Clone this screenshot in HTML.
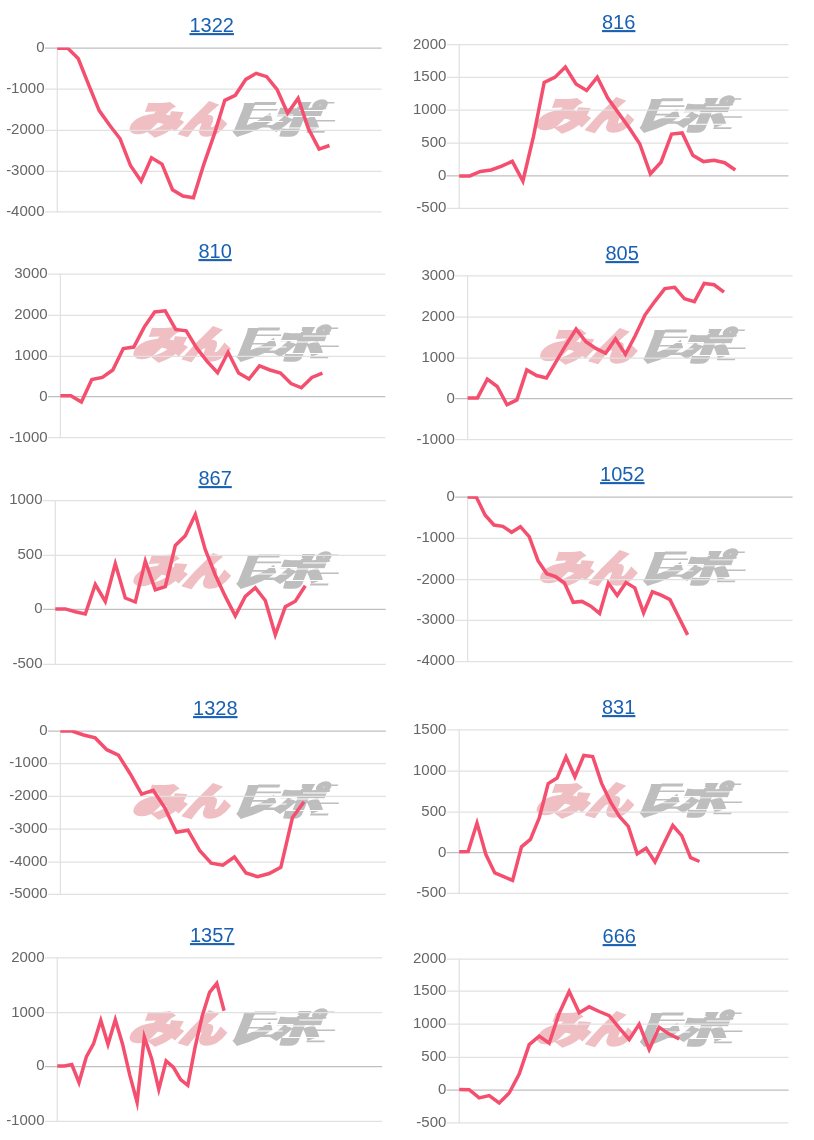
<!DOCTYPE html>
<html lang="ja"><head><meta charset="utf-8"><title>charts</title>
<style>
html,body{margin:0;padding:0;background:#fff}
body{width:814px;height:1140px;position:relative;overflow:hidden;font-family:"Liberation Sans","Noto Sans CJK JP",sans-serif}
svg{position:absolute;left:0;top:0;display:block}
svg text{font-family:"Liberation Sans","Noto Sans CJK JP",sans-serif}
a.t{position:absolute;font-size:20px;line-height:24px;height:24px;color:#1a60b2;text-decoration:underline;text-decoration-thickness:1.9px;text-underline-offset:1.3px;white-space:nowrap;transform:translateX(-50%) scaleY(1.05);transform-origin:50% 18.93px}
.lb{font-size:15px;fill:#666}
</style></head><body>
<svg width="814" height="1140" viewBox="0 0 814 1140">
<g class="wm"><g transform="translate(132.7,136.5) skewX(-22)">
<text x="-6.5" y="-4.0" font-size="37" font-weight="900" fill="#efbfc3" stroke="#efbfc3" stroke-width="3.2" stroke-linejoin="miter" textLength="51" lengthAdjust="spacingAndGlyphs">み</text>
<text x="44.5" y="-4.0" font-size="37" font-weight="900" fill="#efbfc3" stroke="#efbfc3" stroke-width="3.2" stroke-linejoin="miter" textLength="44" lengthAdjust="spacingAndGlyphs">ん</text>
<text x="92.5" y="-4.0" font-size="37" font-weight="900" fill="#bebebe" stroke="#bebebe" stroke-width="3.2" stroke-linejoin="miter" textLength="41" lengthAdjust="spacingAndGlyphs">レ</text>
<text x="133.5" y="-4.0" font-size="37" font-weight="900" fill="#bebebe" stroke="#bebebe" stroke-width="2.6" stroke-linejoin="miter" textLength="49" lengthAdjust="spacingAndGlyphs">ポ</text>
<rect x="108" y="-34.5" width="22" height="3.0" fill="#bebebe"/>
<rect x="108" y="-27.5" width="26" height="1.6" fill="#bebebe"/>
<rect x="104" y="-19" width="20" height="1.6" fill="#bebebe"/>
<rect x="106" y="-11.5" width="36" height="2.4" fill="#bebebe"/>
<rect x="166" y="-29" width="16" height="1.8" fill="#bebebe"/>
<rect x="162" y="-24.5" width="14" height="1.6" fill="#bebebe"/>
<rect x="170" y="-16.5" width="26" height="1.5" fill="#bebebe"/>
<rect x="172" y="-5.5" width="18" height="1.8" fill="#bebebe"/>
<rect x="172" y="-34.5" width="16" height="1.5" fill="#bebebe"/>
<rect x="114" y="-31.0" width="40" height="1.0" fill="#fff"/>
<rect x="118" y="-22" width="34" height="1.0" fill="#fff"/>
<rect x="114" y="-15.5" width="30" height="0.9" fill="#fff"/>
<rect x="146" y="-20.5" width="40" height="0.9" fill="#fff"/>
<rect x="146" y="-9" width="44" height="0.9" fill="#fff"/>
<rect x="156" y="-26.5" width="34" height="0.9" fill="#fff"/>
</g></g>
<line x1="57.3" y1="47.6" x2="57.3" y2="212.4" stroke="#e1e1e1" stroke-width="1.25"/>
<line x1="44.8" y1="48.2" x2="381.6" y2="48.2" stroke="#bfbfbf" stroke-width="1.25"/>
<text class="lb" x="44.5" y="52.1" text-anchor="end">0</text>
<line x1="44.8" y1="89.2" x2="381.6" y2="89.2" stroke="#e1e1e1" stroke-width="1.25"/>
<text class="lb" x="44.5" y="93.1" text-anchor="end">-1000</text>
<line x1="44.8" y1="130.4" x2="381.6" y2="130.4" stroke="#e1e1e1" stroke-width="1.25"/>
<text class="lb" x="44.5" y="134.3" text-anchor="end">-2000</text>
<line x1="44.8" y1="171.3" x2="381.6" y2="171.3" stroke="#e1e1e1" stroke-width="1.25"/>
<text class="lb" x="44.5" y="175.2" text-anchor="end">-3000</text>
<line x1="44.8" y1="211.8" x2="381.6" y2="211.8" stroke="#e1e1e1" stroke-width="1.25"/>
<text class="lb" x="44.5" y="215.7" text-anchor="end">-4000</text>
<clipPath id="cp0"><rect x="56.7" y="47.4" width="325.5" height="165.2"/></clipPath>
<polyline clip-path="url(#cp0)" points="57.3,48.2 67.8,48.3 78.2,58.5 88.7,84.8 99.2,110.6 109.7,125.3 120.1,138.8 130.6,165.8 141.1,181.1 151.5,157.8 162.0,164.1 172.5,189.7 182.9,196.1 193.4,197.7 203.9,164.1 214.4,133.9 224.8,100.3 235.3,95.3 245.8,79.4 256.2,73.3 266.7,76.7 277.2,89.7 287.6,113.2 298.1,98.4 308.6,129.0 319.1,149.1 329.5,145.5" fill="none" stroke="#f44f6e" stroke-width="3.5" stroke-linejoin="miter" stroke-miterlimit="10" stroke-linecap="butt"/>
<g class="wm"><g transform="translate(539.6,132.8) skewX(-22)">
<text x="-6.5" y="-4.0" font-size="37" font-weight="900" fill="#efbfc3" stroke="#efbfc3" stroke-width="3.2" stroke-linejoin="miter" textLength="51" lengthAdjust="spacingAndGlyphs">み</text>
<text x="44.5" y="-4.0" font-size="37" font-weight="900" fill="#efbfc3" stroke="#efbfc3" stroke-width="3.2" stroke-linejoin="miter" textLength="44" lengthAdjust="spacingAndGlyphs">ん</text>
<text x="92.5" y="-4.0" font-size="37" font-weight="900" fill="#bebebe" stroke="#bebebe" stroke-width="3.2" stroke-linejoin="miter" textLength="41" lengthAdjust="spacingAndGlyphs">レ</text>
<text x="133.5" y="-4.0" font-size="37" font-weight="900" fill="#bebebe" stroke="#bebebe" stroke-width="2.6" stroke-linejoin="miter" textLength="49" lengthAdjust="spacingAndGlyphs">ポ</text>
<rect x="108" y="-34.5" width="22" height="3.0" fill="#bebebe"/>
<rect x="108" y="-27.5" width="26" height="1.6" fill="#bebebe"/>
<rect x="104" y="-19" width="20" height="1.6" fill="#bebebe"/>
<rect x="106" y="-11.5" width="36" height="2.4" fill="#bebebe"/>
<rect x="166" y="-29" width="16" height="1.8" fill="#bebebe"/>
<rect x="162" y="-24.5" width="14" height="1.6" fill="#bebebe"/>
<rect x="170" y="-16.5" width="26" height="1.5" fill="#bebebe"/>
<rect x="172" y="-5.5" width="18" height="1.8" fill="#bebebe"/>
<rect x="172" y="-34.5" width="16" height="1.5" fill="#bebebe"/>
<rect x="114" y="-31.0" width="40" height="1.0" fill="#fff"/>
<rect x="118" y="-22" width="34" height="1.0" fill="#fff"/>
<rect x="114" y="-15.5" width="30" height="0.9" fill="#fff"/>
<rect x="146" y="-20.5" width="40" height="0.9" fill="#fff"/>
<rect x="146" y="-9" width="44" height="0.9" fill="#fff"/>
<rect x="156" y="-26.5" width="34" height="0.9" fill="#fff"/>
</g></g>
<line x1="459.2" y1="44.1" x2="459.2" y2="209.0" stroke="#e1e1e1" stroke-width="1.25"/>
<line x1="446.7" y1="44.7" x2="788.5" y2="44.7" stroke="#e1e1e1" stroke-width="1.25"/>
<text class="lb" x="446.4" y="48.6" text-anchor="end">2000</text>
<line x1="446.7" y1="77.4" x2="788.5" y2="77.4" stroke="#e1e1e1" stroke-width="1.25"/>
<text class="lb" x="446.4" y="81.3" text-anchor="end">1500</text>
<line x1="446.7" y1="110.1" x2="788.5" y2="110.1" stroke="#e1e1e1" stroke-width="1.25"/>
<text class="lb" x="446.4" y="114.0" text-anchor="end">1000</text>
<line x1="446.7" y1="143.0" x2="788.5" y2="143.0" stroke="#e1e1e1" stroke-width="1.25"/>
<text class="lb" x="446.4" y="146.9" text-anchor="end">500</text>
<line x1="446.7" y1="175.9" x2="788.5" y2="175.9" stroke="#bfbfbf" stroke-width="1.25"/>
<text class="lb" x="446.4" y="179.8" text-anchor="end">0</text>
<line x1="446.7" y1="208.4" x2="788.5" y2="208.4" stroke="#e1e1e1" stroke-width="1.25"/>
<text class="lb" x="446.4" y="212.3" text-anchor="end">-500</text>
<clipPath id="cp1"><rect x="458.6" y="43.9" width="330.5" height="165.3"/></clipPath>
<polyline clip-path="url(#cp1)" points="459.2,175.9 469.8,175.9 480.4,171.5 491.1,170.0 501.7,166.1 512.3,161.3 522.9,181.0 533.5,136.4 544.2,82.4 554.8,77.4 565.4,67.0 576.0,84.0 586.6,90.5 597.3,77.2 607.9,98.3 618.5,113.0 629.1,127.8 639.7,143.7 650.4,173.8 661.0,162.2 671.6,134.1 682.2,132.9 692.8,155.3 703.5,161.6 714.1,160.2 724.7,162.7 735.3,170.0" fill="none" stroke="#f44f6e" stroke-width="3.5" stroke-linejoin="miter" stroke-miterlimit="10" stroke-linecap="butt"/>
<g class="wm"><g transform="translate(136.4,362.0) skewX(-22)">
<text x="-6.5" y="-4.0" font-size="37" font-weight="900" fill="#efbfc3" stroke="#efbfc3" stroke-width="3.2" stroke-linejoin="miter" textLength="51" lengthAdjust="spacingAndGlyphs">み</text>
<text x="44.5" y="-4.0" font-size="37" font-weight="900" fill="#efbfc3" stroke="#efbfc3" stroke-width="3.2" stroke-linejoin="miter" textLength="44" lengthAdjust="spacingAndGlyphs">ん</text>
<text x="92.5" y="-4.0" font-size="37" font-weight="900" fill="#bebebe" stroke="#bebebe" stroke-width="3.2" stroke-linejoin="miter" textLength="41" lengthAdjust="spacingAndGlyphs">レ</text>
<text x="133.5" y="-4.0" font-size="37" font-weight="900" fill="#bebebe" stroke="#bebebe" stroke-width="2.6" stroke-linejoin="miter" textLength="49" lengthAdjust="spacingAndGlyphs">ポ</text>
<rect x="108" y="-34.5" width="22" height="3.0" fill="#bebebe"/>
<rect x="108" y="-27.5" width="26" height="1.6" fill="#bebebe"/>
<rect x="104" y="-19" width="20" height="1.6" fill="#bebebe"/>
<rect x="106" y="-11.5" width="36" height="2.4" fill="#bebebe"/>
<rect x="166" y="-29" width="16" height="1.8" fill="#bebebe"/>
<rect x="162" y="-24.5" width="14" height="1.6" fill="#bebebe"/>
<rect x="170" y="-16.5" width="26" height="1.5" fill="#bebebe"/>
<rect x="172" y="-5.5" width="18" height="1.8" fill="#bebebe"/>
<rect x="172" y="-34.5" width="16" height="1.5" fill="#bebebe"/>
<rect x="114" y="-31.0" width="40" height="1.0" fill="#fff"/>
<rect x="118" y="-22" width="34" height="1.0" fill="#fff"/>
<rect x="114" y="-15.5" width="30" height="0.9" fill="#fff"/>
<rect x="146" y="-20.5" width="40" height="0.9" fill="#fff"/>
<rect x="146" y="-9" width="44" height="0.9" fill="#fff"/>
<rect x="156" y="-26.5" width="34" height="0.9" fill="#fff"/>
</g></g>
<line x1="60.4" y1="273.59999999999997" x2="60.4" y2="438.20000000000005" stroke="#e1e1e1" stroke-width="1.25"/>
<line x1="47.9" y1="274.2" x2="385.3" y2="274.2" stroke="#e1e1e1" stroke-width="1.25"/>
<text class="lb" x="47.6" y="278.1" text-anchor="end">3000</text>
<line x1="47.9" y1="315.3" x2="385.3" y2="315.3" stroke="#e1e1e1" stroke-width="1.25"/>
<text class="lb" x="47.6" y="319.2" text-anchor="end">2000</text>
<line x1="47.9" y1="356.3" x2="385.3" y2="356.3" stroke="#e1e1e1" stroke-width="1.25"/>
<text class="lb" x="47.6" y="360.2" text-anchor="end">1000</text>
<line x1="47.9" y1="396.6" x2="385.3" y2="396.6" stroke="#bfbfbf" stroke-width="1.25"/>
<text class="lb" x="47.6" y="400.5" text-anchor="end">0</text>
<line x1="47.9" y1="437.6" x2="385.3" y2="437.6" stroke="#e1e1e1" stroke-width="1.25"/>
<text class="lb" x="47.6" y="441.5" text-anchor="end">-1000</text>
<clipPath id="cp2"><rect x="59.8" y="273.4" width="326.1" height="165.0"/></clipPath>
<polyline clip-path="url(#cp2)" points="60.4,395.8 70.9,395.8 81.4,402.0 91.8,379.5 102.3,377.4 112.8,370.0 123.3,348.5 133.8,347.1 144.2,327.1 154.7,311.9 165.2,310.8 175.7,329.4 186.2,330.8 196.6,347.9 207.1,361.4 217.6,372.8 228.1,352.3 238.6,373.0 249.0,379.0 259.5,365.9 270.0,370.0 280.5,373.0 291.0,383.6 301.4,387.8 311.9,377.4 322.4,373.2" fill="none" stroke="#f44f6e" stroke-width="3.5" stroke-linejoin="miter" stroke-miterlimit="10" stroke-linecap="butt"/>
<g class="wm"><g transform="translate(543.2,364.0) skewX(-22)">
<text x="-6.5" y="-4.0" font-size="37" font-weight="900" fill="#efbfc3" stroke="#efbfc3" stroke-width="3.2" stroke-linejoin="miter" textLength="51" lengthAdjust="spacingAndGlyphs">み</text>
<text x="44.5" y="-4.0" font-size="37" font-weight="900" fill="#efbfc3" stroke="#efbfc3" stroke-width="3.2" stroke-linejoin="miter" textLength="44" lengthAdjust="spacingAndGlyphs">ん</text>
<text x="92.5" y="-4.0" font-size="37" font-weight="900" fill="#bebebe" stroke="#bebebe" stroke-width="3.2" stroke-linejoin="miter" textLength="41" lengthAdjust="spacingAndGlyphs">レ</text>
<text x="133.5" y="-4.0" font-size="37" font-weight="900" fill="#bebebe" stroke="#bebebe" stroke-width="2.6" stroke-linejoin="miter" textLength="49" lengthAdjust="spacingAndGlyphs">ポ</text>
<rect x="108" y="-34.5" width="22" height="3.0" fill="#bebebe"/>
<rect x="108" y="-27.5" width="26" height="1.6" fill="#bebebe"/>
<rect x="104" y="-19" width="20" height="1.6" fill="#bebebe"/>
<rect x="106" y="-11.5" width="36" height="2.4" fill="#bebebe"/>
<rect x="166" y="-29" width="16" height="1.8" fill="#bebebe"/>
<rect x="162" y="-24.5" width="14" height="1.6" fill="#bebebe"/>
<rect x="170" y="-16.5" width="26" height="1.5" fill="#bebebe"/>
<rect x="172" y="-5.5" width="18" height="1.8" fill="#bebebe"/>
<rect x="172" y="-34.5" width="16" height="1.5" fill="#bebebe"/>
<rect x="114" y="-31.0" width="40" height="1.0" fill="#fff"/>
<rect x="118" y="-22" width="34" height="1.0" fill="#fff"/>
<rect x="114" y="-15.5" width="30" height="0.9" fill="#fff"/>
<rect x="146" y="-20.5" width="40" height="0.9" fill="#fff"/>
<rect x="146" y="-9" width="44" height="0.9" fill="#fff"/>
<rect x="156" y="-26.5" width="34" height="0.9" fill="#fff"/>
</g></g>
<line x1="467.6" y1="275.29999999999995" x2="467.6" y2="440.20000000000005" stroke="#e1e1e1" stroke-width="1.25"/>
<line x1="455.1" y1="275.9" x2="792.6" y2="275.9" stroke="#e1e1e1" stroke-width="1.25"/>
<text class="lb" x="454.8" y="279.8" text-anchor="end">3000</text>
<line x1="455.1" y1="317.0" x2="792.6" y2="317.0" stroke="#e1e1e1" stroke-width="1.25"/>
<text class="lb" x="454.8" y="320.9" text-anchor="end">2000</text>
<line x1="455.1" y1="358.0" x2="792.6" y2="358.0" stroke="#e1e1e1" stroke-width="1.25"/>
<text class="lb" x="454.8" y="361.9" text-anchor="end">1000</text>
<line x1="455.1" y1="398.6" x2="792.6" y2="398.6" stroke="#bfbfbf" stroke-width="1.25"/>
<text class="lb" x="454.8" y="402.5" text-anchor="end">0</text>
<line x1="455.1" y1="439.6" x2="792.6" y2="439.6" stroke="#e1e1e1" stroke-width="1.25"/>
<text class="lb" x="454.8" y="443.5" text-anchor="end">-1000</text>
<clipPath id="cp3"><rect x="467.0" y="275.1" width="326.2" height="165.3"/></clipPath>
<polyline clip-path="url(#cp3)" points="467.6,398.1 477.5,397.9 487.3,379.2 497.2,386.5 507.0,404.8 516.9,399.9 526.8,369.9 536.6,375.5 546.5,377.9 556.3,361.4 566.2,344.7 576.1,329.1 585.9,341.8 595.8,348.4 605.6,353.2 615.5,339.0 625.4,354.2 635.2,335.7 645.1,314.8 654.9,301.3 664.8,288.6 674.7,287.3 684.5,298.8 694.4,301.7 704.2,283.5 714.1,284.8 724.0,292.2" fill="none" stroke="#f44f6e" stroke-width="3.5" stroke-linejoin="miter" stroke-miterlimit="10" stroke-linecap="butt"/>
<g class="wm"><g transform="translate(136.4,589.1) skewX(-22)">
<text x="-6.5" y="-4.0" font-size="37" font-weight="900" fill="#efbfc3" stroke="#efbfc3" stroke-width="3.2" stroke-linejoin="miter" textLength="51" lengthAdjust="spacingAndGlyphs">み</text>
<text x="44.5" y="-4.0" font-size="37" font-weight="900" fill="#efbfc3" stroke="#efbfc3" stroke-width="3.2" stroke-linejoin="miter" textLength="44" lengthAdjust="spacingAndGlyphs">ん</text>
<text x="92.5" y="-4.0" font-size="37" font-weight="900" fill="#bebebe" stroke="#bebebe" stroke-width="3.2" stroke-linejoin="miter" textLength="41" lengthAdjust="spacingAndGlyphs">レ</text>
<text x="133.5" y="-4.0" font-size="37" font-weight="900" fill="#bebebe" stroke="#bebebe" stroke-width="2.6" stroke-linejoin="miter" textLength="49" lengthAdjust="spacingAndGlyphs">ポ</text>
<rect x="108" y="-34.5" width="22" height="3.0" fill="#bebebe"/>
<rect x="108" y="-27.5" width="26" height="1.6" fill="#bebebe"/>
<rect x="104" y="-19" width="20" height="1.6" fill="#bebebe"/>
<rect x="106" y="-11.5" width="36" height="2.4" fill="#bebebe"/>
<rect x="166" y="-29" width="16" height="1.8" fill="#bebebe"/>
<rect x="162" y="-24.5" width="14" height="1.6" fill="#bebebe"/>
<rect x="170" y="-16.5" width="26" height="1.5" fill="#bebebe"/>
<rect x="172" y="-5.5" width="18" height="1.8" fill="#bebebe"/>
<rect x="172" y="-34.5" width="16" height="1.5" fill="#bebebe"/>
<rect x="114" y="-31.0" width="40" height="1.0" fill="#fff"/>
<rect x="118" y="-22" width="34" height="1.0" fill="#fff"/>
<rect x="114" y="-15.5" width="30" height="0.9" fill="#fff"/>
<rect x="146" y="-20.5" width="40" height="0.9" fill="#fff"/>
<rect x="146" y="-9" width="44" height="0.9" fill="#fff"/>
<rect x="156" y="-26.5" width="34" height="0.9" fill="#fff"/>
</g></g>
<line x1="55.3" y1="499.9" x2="55.3" y2="665.0" stroke="#e1e1e1" stroke-width="1.25"/>
<line x1="42.8" y1="500.5" x2="385.8" y2="500.5" stroke="#e1e1e1" stroke-width="1.25"/>
<text class="lb" x="42.5" y="504.4" text-anchor="end">1000</text>
<line x1="42.8" y1="555.3" x2="385.8" y2="555.3" stroke="#e1e1e1" stroke-width="1.25"/>
<text class="lb" x="42.5" y="559.2" text-anchor="end">500</text>
<line x1="42.8" y1="609.4" x2="385.8" y2="609.4" stroke="#bfbfbf" stroke-width="1.25"/>
<text class="lb" x="42.5" y="613.3" text-anchor="end">0</text>
<line x1="42.8" y1="664.4" x2="385.8" y2="664.4" stroke="#e1e1e1" stroke-width="1.25"/>
<text class="lb" x="42.5" y="668.3" text-anchor="end">-500</text>
<clipPath id="cp4"><rect x="54.7" y="499.7" width="331.7" height="165.5"/></clipPath>
<polyline clip-path="url(#cp4)" points="55.3,608.9 65.3,608.9 75.3,611.8 85.3,614.0 95.3,584.5 105.3,601.4 115.3,563.8 125.3,598.0 135.3,602.0 145.3,561.2 155.3,589.8 165.3,586.7 175.3,545.5 185.3,535.7 195.3,514.4 205.3,549.7 215.3,575.0 225.3,596.4 235.3,615.9 245.3,596.4 255.3,587.8 265.3,600.5 275.3,634.8 285.3,606.8 295.3,601.3 305.3,585.8" fill="none" stroke="#f44f6e" stroke-width="3.5" stroke-linejoin="miter" stroke-miterlimit="10" stroke-linecap="butt"/>
<g class="wm"><g transform="translate(543.2,585.9) skewX(-22)">
<text x="-6.5" y="-4.0" font-size="37" font-weight="900" fill="#efbfc3" stroke="#efbfc3" stroke-width="3.2" stroke-linejoin="miter" textLength="51" lengthAdjust="spacingAndGlyphs">み</text>
<text x="44.5" y="-4.0" font-size="37" font-weight="900" fill="#efbfc3" stroke="#efbfc3" stroke-width="3.2" stroke-linejoin="miter" textLength="44" lengthAdjust="spacingAndGlyphs">ん</text>
<text x="92.5" y="-4.0" font-size="37" font-weight="900" fill="#bebebe" stroke="#bebebe" stroke-width="3.2" stroke-linejoin="miter" textLength="41" lengthAdjust="spacingAndGlyphs">レ</text>
<text x="133.5" y="-4.0" font-size="37" font-weight="900" fill="#bebebe" stroke="#bebebe" stroke-width="2.6" stroke-linejoin="miter" textLength="49" lengthAdjust="spacingAndGlyphs">ポ</text>
<rect x="108" y="-34.5" width="22" height="3.0" fill="#bebebe"/>
<rect x="108" y="-27.5" width="26" height="1.6" fill="#bebebe"/>
<rect x="104" y="-19" width="20" height="1.6" fill="#bebebe"/>
<rect x="106" y="-11.5" width="36" height="2.4" fill="#bebebe"/>
<rect x="166" y="-29" width="16" height="1.8" fill="#bebebe"/>
<rect x="162" y="-24.5" width="14" height="1.6" fill="#bebebe"/>
<rect x="170" y="-16.5" width="26" height="1.5" fill="#bebebe"/>
<rect x="172" y="-5.5" width="18" height="1.8" fill="#bebebe"/>
<rect x="172" y="-34.5" width="16" height="1.5" fill="#bebebe"/>
<rect x="114" y="-31.0" width="40" height="1.0" fill="#fff"/>
<rect x="118" y="-22" width="34" height="1.0" fill="#fff"/>
<rect x="114" y="-15.5" width="30" height="0.9" fill="#fff"/>
<rect x="146" y="-20.5" width="40" height="0.9" fill="#fff"/>
<rect x="146" y="-9" width="44" height="0.9" fill="#fff"/>
<rect x="156" y="-26.5" width="34" height="0.9" fill="#fff"/>
</g></g>
<line x1="467.6" y1="496.5" x2="467.6" y2="662.1" stroke="#e1e1e1" stroke-width="1.25"/>
<line x1="455.1" y1="497.1" x2="792.6" y2="497.1" stroke="#bfbfbf" stroke-width="1.25"/>
<text class="lb" x="454.8" y="501.0" text-anchor="end">0</text>
<line x1="455.1" y1="538.4" x2="792.6" y2="538.4" stroke="#e1e1e1" stroke-width="1.25"/>
<text class="lb" x="454.8" y="542.3" text-anchor="end">-1000</text>
<line x1="455.1" y1="579.7" x2="792.6" y2="579.7" stroke="#e1e1e1" stroke-width="1.25"/>
<text class="lb" x="454.8" y="583.6" text-anchor="end">-2000</text>
<line x1="455.1" y1="620.4" x2="792.6" y2="620.4" stroke="#e1e1e1" stroke-width="1.25"/>
<text class="lb" x="454.8" y="624.3" text-anchor="end">-3000</text>
<line x1="455.1" y1="661.5" x2="792.6" y2="661.5" stroke="#e1e1e1" stroke-width="1.25"/>
<text class="lb" x="454.8" y="665.4" text-anchor="end">-4000</text>
<clipPath id="cp5"><rect x="467.0" y="496.3" width="326.2" height="166.0"/></clipPath>
<polyline clip-path="url(#cp5)" points="467.6,497.1 476.4,497.3 485.2,515.3 494.0,525.0 502.8,526.3 511.6,532.3 520.4,526.7 529.2,536.7 538.0,560.7 546.8,573.7 555.6,576.7 564.4,582.9 573.2,602.3 582.0,601.4 590.8,606.2 599.6,613.4 608.4,583.1 617.2,595.5 626.0,582.5 634.8,587.8 643.6,612.8 652.4,591.8 661.2,595.1 670.0,599.6 678.8,617.2 687.6,634.9" fill="none" stroke="#f44f6e" stroke-width="3.5" stroke-linejoin="miter" stroke-miterlimit="10" stroke-linecap="butt"/>
<g class="wm"><g transform="translate(136.4,819.1) skewX(-22)">
<text x="-6.5" y="-4.0" font-size="37" font-weight="900" fill="#efbfc3" stroke="#efbfc3" stroke-width="3.2" stroke-linejoin="miter" textLength="51" lengthAdjust="spacingAndGlyphs">み</text>
<text x="44.5" y="-4.0" font-size="37" font-weight="900" fill="#efbfc3" stroke="#efbfc3" stroke-width="3.2" stroke-linejoin="miter" textLength="44" lengthAdjust="spacingAndGlyphs">ん</text>
<text x="92.5" y="-4.0" font-size="37" font-weight="900" fill="#bebebe" stroke="#bebebe" stroke-width="3.2" stroke-linejoin="miter" textLength="41" lengthAdjust="spacingAndGlyphs">レ</text>
<text x="133.5" y="-4.0" font-size="37" font-weight="900" fill="#bebebe" stroke="#bebebe" stroke-width="2.6" stroke-linejoin="miter" textLength="49" lengthAdjust="spacingAndGlyphs">ポ</text>
<rect x="108" y="-34.5" width="22" height="3.0" fill="#bebebe"/>
<rect x="108" y="-27.5" width="26" height="1.6" fill="#bebebe"/>
<rect x="104" y="-19" width="20" height="1.6" fill="#bebebe"/>
<rect x="106" y="-11.5" width="36" height="2.4" fill="#bebebe"/>
<rect x="166" y="-29" width="16" height="1.8" fill="#bebebe"/>
<rect x="162" y="-24.5" width="14" height="1.6" fill="#bebebe"/>
<rect x="170" y="-16.5" width="26" height="1.5" fill="#bebebe"/>
<rect x="172" y="-5.5" width="18" height="1.8" fill="#bebebe"/>
<rect x="172" y="-34.5" width="16" height="1.5" fill="#bebebe"/>
<rect x="114" y="-31.0" width="40" height="1.0" fill="#fff"/>
<rect x="118" y="-22" width="34" height="1.0" fill="#fff"/>
<rect x="114" y="-15.5" width="30" height="0.9" fill="#fff"/>
<rect x="146" y="-20.5" width="40" height="0.9" fill="#fff"/>
<rect x="146" y="-9" width="44" height="0.9" fill="#fff"/>
<rect x="156" y="-26.5" width="34" height="0.9" fill="#fff"/>
</g></g>
<line x1="60.4" y1="730.4" x2="60.4" y2="895.0" stroke="#e1e1e1" stroke-width="1.25"/>
<line x1="47.9" y1="731.0" x2="385.8" y2="731.0" stroke="#bfbfbf" stroke-width="1.25"/>
<text class="lb" x="47.6" y="734.9" text-anchor="end">0</text>
<line x1="47.9" y1="763.5" x2="385.8" y2="763.5" stroke="#e1e1e1" stroke-width="1.25"/>
<text class="lb" x="47.6" y="767.4" text-anchor="end">-1000</text>
<line x1="47.9" y1="796.4" x2="385.8" y2="796.4" stroke="#e1e1e1" stroke-width="1.25"/>
<text class="lb" x="47.6" y="800.3" text-anchor="end">-2000</text>
<line x1="47.9" y1="829.1" x2="385.8" y2="829.1" stroke="#e1e1e1" stroke-width="1.25"/>
<text class="lb" x="47.6" y="833.0" text-anchor="end">-3000</text>
<line x1="47.9" y1="862.0" x2="385.8" y2="862.0" stroke="#e1e1e1" stroke-width="1.25"/>
<text class="lb" x="47.6" y="865.9" text-anchor="end">-4000</text>
<line x1="47.9" y1="894.4" x2="385.8" y2="894.4" stroke="#e1e1e1" stroke-width="1.25"/>
<text class="lb" x="47.6" y="898.3" text-anchor="end">-5000</text>
<clipPath id="cp6"><rect x="59.8" y="730.2" width="326.6" height="165.0"/></clipPath>
<polyline clip-path="url(#cp6)" points="60.4,731.0 72.0,731.0 83.6,735.0 95.2,737.9 106.8,749.7 118.4,755.1 130.0,773.5 141.6,794.1 153.2,790.3 164.8,807.9 176.4,832.2 188.0,830.2 199.6,850.4 211.2,863.1 222.8,865.1 234.4,857.0 246.0,873.0 257.6,876.7 269.2,873.5 280.8,867.3 292.4,817.8 304.0,801.8" fill="none" stroke="#f44f6e" stroke-width="3.5" stroke-linejoin="miter" stroke-miterlimit="10" stroke-linecap="butt"/>
<g class="wm"><g transform="translate(539.6,817.9) skewX(-22)">
<text x="-6.5" y="-4.0" font-size="37" font-weight="900" fill="#efbfc3" stroke="#efbfc3" stroke-width="3.2" stroke-linejoin="miter" textLength="51" lengthAdjust="spacingAndGlyphs">み</text>
<text x="44.5" y="-4.0" font-size="37" font-weight="900" fill="#efbfc3" stroke="#efbfc3" stroke-width="3.2" stroke-linejoin="miter" textLength="44" lengthAdjust="spacingAndGlyphs">ん</text>
<text x="92.5" y="-4.0" font-size="37" font-weight="900" fill="#bebebe" stroke="#bebebe" stroke-width="3.2" stroke-linejoin="miter" textLength="41" lengthAdjust="spacingAndGlyphs">レ</text>
<text x="133.5" y="-4.0" font-size="37" font-weight="900" fill="#bebebe" stroke="#bebebe" stroke-width="2.6" stroke-linejoin="miter" textLength="49" lengthAdjust="spacingAndGlyphs">ポ</text>
<rect x="108" y="-34.5" width="22" height="3.0" fill="#bebebe"/>
<rect x="108" y="-27.5" width="26" height="1.6" fill="#bebebe"/>
<rect x="104" y="-19" width="20" height="1.6" fill="#bebebe"/>
<rect x="106" y="-11.5" width="36" height="2.4" fill="#bebebe"/>
<rect x="166" y="-29" width="16" height="1.8" fill="#bebebe"/>
<rect x="162" y="-24.5" width="14" height="1.6" fill="#bebebe"/>
<rect x="170" y="-16.5" width="26" height="1.5" fill="#bebebe"/>
<rect x="172" y="-5.5" width="18" height="1.8" fill="#bebebe"/>
<rect x="172" y="-34.5" width="16" height="1.5" fill="#bebebe"/>
<rect x="114" y="-31.0" width="40" height="1.0" fill="#fff"/>
<rect x="118" y="-22" width="34" height="1.0" fill="#fff"/>
<rect x="114" y="-15.5" width="30" height="0.9" fill="#fff"/>
<rect x="146" y="-20.5" width="40" height="0.9" fill="#fff"/>
<rect x="146" y="-9" width="44" height="0.9" fill="#fff"/>
<rect x="156" y="-26.5" width="34" height="0.9" fill="#fff"/>
</g></g>
<line x1="459.2" y1="729.1999999999999" x2="459.2" y2="894.0" stroke="#e1e1e1" stroke-width="1.25"/>
<line x1="446.7" y1="729.8" x2="788.5" y2="729.8" stroke="#e1e1e1" stroke-width="1.25"/>
<text class="lb" x="446.4" y="733.7" text-anchor="end">1500</text>
<line x1="446.7" y1="771.1" x2="788.5" y2="771.1" stroke="#e1e1e1" stroke-width="1.25"/>
<text class="lb" x="446.4" y="775.0" text-anchor="end">1000</text>
<line x1="446.7" y1="812.1" x2="788.5" y2="812.1" stroke="#e1e1e1" stroke-width="1.25"/>
<text class="lb" x="446.4" y="816.0" text-anchor="end">500</text>
<line x1="446.7" y1="852.7" x2="788.5" y2="852.7" stroke="#bfbfbf" stroke-width="1.25"/>
<text class="lb" x="446.4" y="856.6" text-anchor="end">0</text>
<line x1="446.7" y1="893.4" x2="788.5" y2="893.4" stroke="#e1e1e1" stroke-width="1.25"/>
<text class="lb" x="446.4" y="897.3" text-anchor="end">-500</text>
<clipPath id="cp7"><rect x="458.6" y="729.0" width="330.5" height="165.2"/></clipPath>
<polyline clip-path="url(#cp7)" points="459.2,851.7 468.1,851.5 477.0,823.1 485.9,854.6 494.8,872.9 503.7,876.7 512.6,880.4 521.5,846.8 530.4,839.4 539.3,817.8 548.2,783.5 557.1,778.0 566.0,756.8 574.9,776.8 583.8,755.4 592.7,756.5 601.6,783.4 610.5,801.8 619.4,816.5 628.3,826.4 637.2,853.9 646.1,848.2 655.0,862.0 663.9,843.6 672.8,825.5 681.7,835.7 690.6,857.7 699.5,861.5" fill="none" stroke="#f44f6e" stroke-width="3.5" stroke-linejoin="miter" stroke-miterlimit="10" stroke-linecap="butt"/>
<g class="wm"><g transform="translate(132.7,1046.0) skewX(-22)">
<text x="-6.5" y="-4.0" font-size="37" font-weight="900" fill="#efbfc3" stroke="#efbfc3" stroke-width="3.2" stroke-linejoin="miter" textLength="51" lengthAdjust="spacingAndGlyphs">み</text>
<text x="44.5" y="-4.0" font-size="37" font-weight="900" fill="#efbfc3" stroke="#efbfc3" stroke-width="3.2" stroke-linejoin="miter" textLength="44" lengthAdjust="spacingAndGlyphs">ん</text>
<text x="92.5" y="-4.0" font-size="37" font-weight="900" fill="#bebebe" stroke="#bebebe" stroke-width="3.2" stroke-linejoin="miter" textLength="41" lengthAdjust="spacingAndGlyphs">レ</text>
<text x="133.5" y="-4.0" font-size="37" font-weight="900" fill="#bebebe" stroke="#bebebe" stroke-width="2.6" stroke-linejoin="miter" textLength="49" lengthAdjust="spacingAndGlyphs">ポ</text>
<rect x="108" y="-34.5" width="22" height="3.0" fill="#bebebe"/>
<rect x="108" y="-27.5" width="26" height="1.6" fill="#bebebe"/>
<rect x="104" y="-19" width="20" height="1.6" fill="#bebebe"/>
<rect x="106" y="-11.5" width="36" height="2.4" fill="#bebebe"/>
<rect x="166" y="-29" width="16" height="1.8" fill="#bebebe"/>
<rect x="162" y="-24.5" width="14" height="1.6" fill="#bebebe"/>
<rect x="170" y="-16.5" width="26" height="1.5" fill="#bebebe"/>
<rect x="172" y="-5.5" width="18" height="1.8" fill="#bebebe"/>
<rect x="172" y="-34.5" width="16" height="1.5" fill="#bebebe"/>
<rect x="114" y="-31.0" width="40" height="1.0" fill="#fff"/>
<rect x="118" y="-22" width="34" height="1.0" fill="#fff"/>
<rect x="114" y="-15.5" width="30" height="0.9" fill="#fff"/>
<rect x="146" y="-20.5" width="40" height="0.9" fill="#fff"/>
<rect x="146" y="-9" width="44" height="0.9" fill="#fff"/>
<rect x="156" y="-26.5" width="34" height="0.9" fill="#fff"/>
</g></g>
<line x1="57.3" y1="957.3" x2="57.3" y2="1121.8999999999999" stroke="#e1e1e1" stroke-width="1.25"/>
<line x1="44.8" y1="957.9" x2="382.1" y2="957.9" stroke="#e1e1e1" stroke-width="1.25"/>
<text class="lb" x="44.5" y="961.8" text-anchor="end">2000</text>
<line x1="44.8" y1="1012.7" x2="382.1" y2="1012.7" stroke="#e1e1e1" stroke-width="1.25"/>
<text class="lb" x="44.5" y="1016.6" text-anchor="end">1000</text>
<line x1="44.8" y1="1066.5" x2="382.1" y2="1066.5" stroke="#bfbfbf" stroke-width="1.25"/>
<text class="lb" x="44.5" y="1070.4" text-anchor="end">0</text>
<line x1="44.8" y1="1121.3" x2="382.1" y2="1121.3" stroke="#e1e1e1" stroke-width="1.25"/>
<text class="lb" x="44.5" y="1125.2" text-anchor="end">-1000</text>
<clipPath id="cp8"><rect x="56.7" y="957.1" width="326.0" height="165.0"/></clipPath>
<polyline clip-path="url(#cp8)" points="57.3,1066.0 64.5,1066.0 71.8,1064.6 79.0,1082.5 86.3,1056.9 93.5,1043.9 100.8,1020.4 108.0,1044.3 115.3,1019.7 122.5,1043.9 129.8,1075.1 137.1,1102.3 144.3,1037.0 151.6,1058.6 158.8,1089.4 166.1,1060.9 173.3,1067.2 180.6,1079.5 187.8,1085.4 195.1,1047.1 202.3,1015.7 209.6,992.3 216.8,983.3 224.1,1010.7" fill="none" stroke="#f44f6e" stroke-width="3.5" stroke-linejoin="miter" stroke-miterlimit="10" stroke-linecap="butt"/>
<g class="wm"><g transform="translate(540.0,1047.0) skewX(-22)">
<text x="-6.5" y="-4.0" font-size="37" font-weight="900" fill="#efbfc3" stroke="#efbfc3" stroke-width="3.2" stroke-linejoin="miter" textLength="51" lengthAdjust="spacingAndGlyphs">み</text>
<text x="44.5" y="-4.0" font-size="37" font-weight="900" fill="#efbfc3" stroke="#efbfc3" stroke-width="3.2" stroke-linejoin="miter" textLength="44" lengthAdjust="spacingAndGlyphs">ん</text>
<text x="92.5" y="-4.0" font-size="37" font-weight="900" fill="#bebebe" stroke="#bebebe" stroke-width="3.2" stroke-linejoin="miter" textLength="41" lengthAdjust="spacingAndGlyphs">レ</text>
<text x="133.5" y="-4.0" font-size="37" font-weight="900" fill="#bebebe" stroke="#bebebe" stroke-width="2.6" stroke-linejoin="miter" textLength="49" lengthAdjust="spacingAndGlyphs">ポ</text>
<rect x="108" y="-34.5" width="22" height="3.0" fill="#bebebe"/>
<rect x="108" y="-27.5" width="26" height="1.6" fill="#bebebe"/>
<rect x="104" y="-19" width="20" height="1.6" fill="#bebebe"/>
<rect x="106" y="-11.5" width="36" height="2.4" fill="#bebebe"/>
<rect x="166" y="-29" width="16" height="1.8" fill="#bebebe"/>
<rect x="162" y="-24.5" width="14" height="1.6" fill="#bebebe"/>
<rect x="170" y="-16.5" width="26" height="1.5" fill="#bebebe"/>
<rect x="172" y="-5.5" width="18" height="1.8" fill="#bebebe"/>
<rect x="172" y="-34.5" width="16" height="1.5" fill="#bebebe"/>
<rect x="114" y="-31.0" width="40" height="1.0" fill="#fff"/>
<rect x="118" y="-22" width="34" height="1.0" fill="#fff"/>
<rect x="114" y="-15.5" width="30" height="0.9" fill="#fff"/>
<rect x="146" y="-20.5" width="40" height="0.9" fill="#fff"/>
<rect x="146" y="-9" width="44" height="0.9" fill="#fff"/>
<rect x="156" y="-26.5" width="34" height="0.9" fill="#fff"/>
</g></g>
<line x1="459.2" y1="958.5" x2="459.2" y2="1123.3999999999999" stroke="#e1e1e1" stroke-width="1.25"/>
<line x1="446.7" y1="959.1" x2="788.5" y2="959.1" stroke="#e1e1e1" stroke-width="1.25"/>
<text class="lb" x="446.4" y="963.0" text-anchor="end">2000</text>
<line x1="446.7" y1="991.1" x2="788.5" y2="991.1" stroke="#e1e1e1" stroke-width="1.25"/>
<text class="lb" x="446.4" y="995.0" text-anchor="end">1500</text>
<line x1="446.7" y1="1024.0" x2="788.5" y2="1024.0" stroke="#e1e1e1" stroke-width="1.25"/>
<text class="lb" x="446.4" y="1027.9" text-anchor="end">1000</text>
<line x1="446.7" y1="1057.4" x2="788.5" y2="1057.4" stroke="#e1e1e1" stroke-width="1.25"/>
<text class="lb" x="446.4" y="1061.3" text-anchor="end">500</text>
<line x1="446.7" y1="1090.1" x2="788.5" y2="1090.1" stroke="#bfbfbf" stroke-width="1.25"/>
<text class="lb" x="446.4" y="1094.0" text-anchor="end">0</text>
<line x1="446.7" y1="1122.8" x2="788.5" y2="1122.8" stroke="#e1e1e1" stroke-width="1.25"/>
<text class="lb" x="446.4" y="1126.7" text-anchor="end">-500</text>
<clipPath id="cp9"><rect x="458.6" y="958.3" width="330.5" height="165.3"/></clipPath>
<polyline clip-path="url(#cp9)" points="459.2,1089.6 469.2,1089.7 479.2,1097.9 489.2,1095.6 499.2,1103.0 509.2,1093.0 519.2,1074.1 529.2,1044.6 539.2,1036.1 549.2,1043.2 559.2,1013.2 569.2,991.5 579.2,1012.7 589.2,1006.8 599.2,1011.5 609.2,1015.7 619.2,1027.9 629.2,1039.5 639.2,1024.3 649.2,1049.5 659.2,1027.3 669.2,1034.1 679.2,1039.0" fill="none" stroke="#f44f6e" stroke-width="3.5" stroke-linejoin="miter" stroke-miterlimit="10" stroke-linecap="butt"/>
</svg>
<a class="t" href="#" style="left:211.7px;top:12.8px">1322</a>
<a class="t" href="#" style="left:618.7px;top:9.8px">816</a>
<a class="t" href="#" style="left:215.1px;top:238.6px">810</a>
<a class="t" href="#" style="left:622.1px;top:240.8px">805</a>
<a class="t" href="#" style="left:215.1px;top:465.8px">867</a>
<a class="t" href="#" style="left:622.3px;top:461.7px">1052</a>
<a class="t" href="#" style="left:215.3px;top:695.8px">1328</a>
<a class="t" href="#" style="left:618.7px;top:694.8px">831</a>
<a class="t" href="#" style="left:212.2px;top:922.8px">1357</a>
<a class="t" href="#" style="left:619.3px;top:923.7px">666</a>
</body></html>
